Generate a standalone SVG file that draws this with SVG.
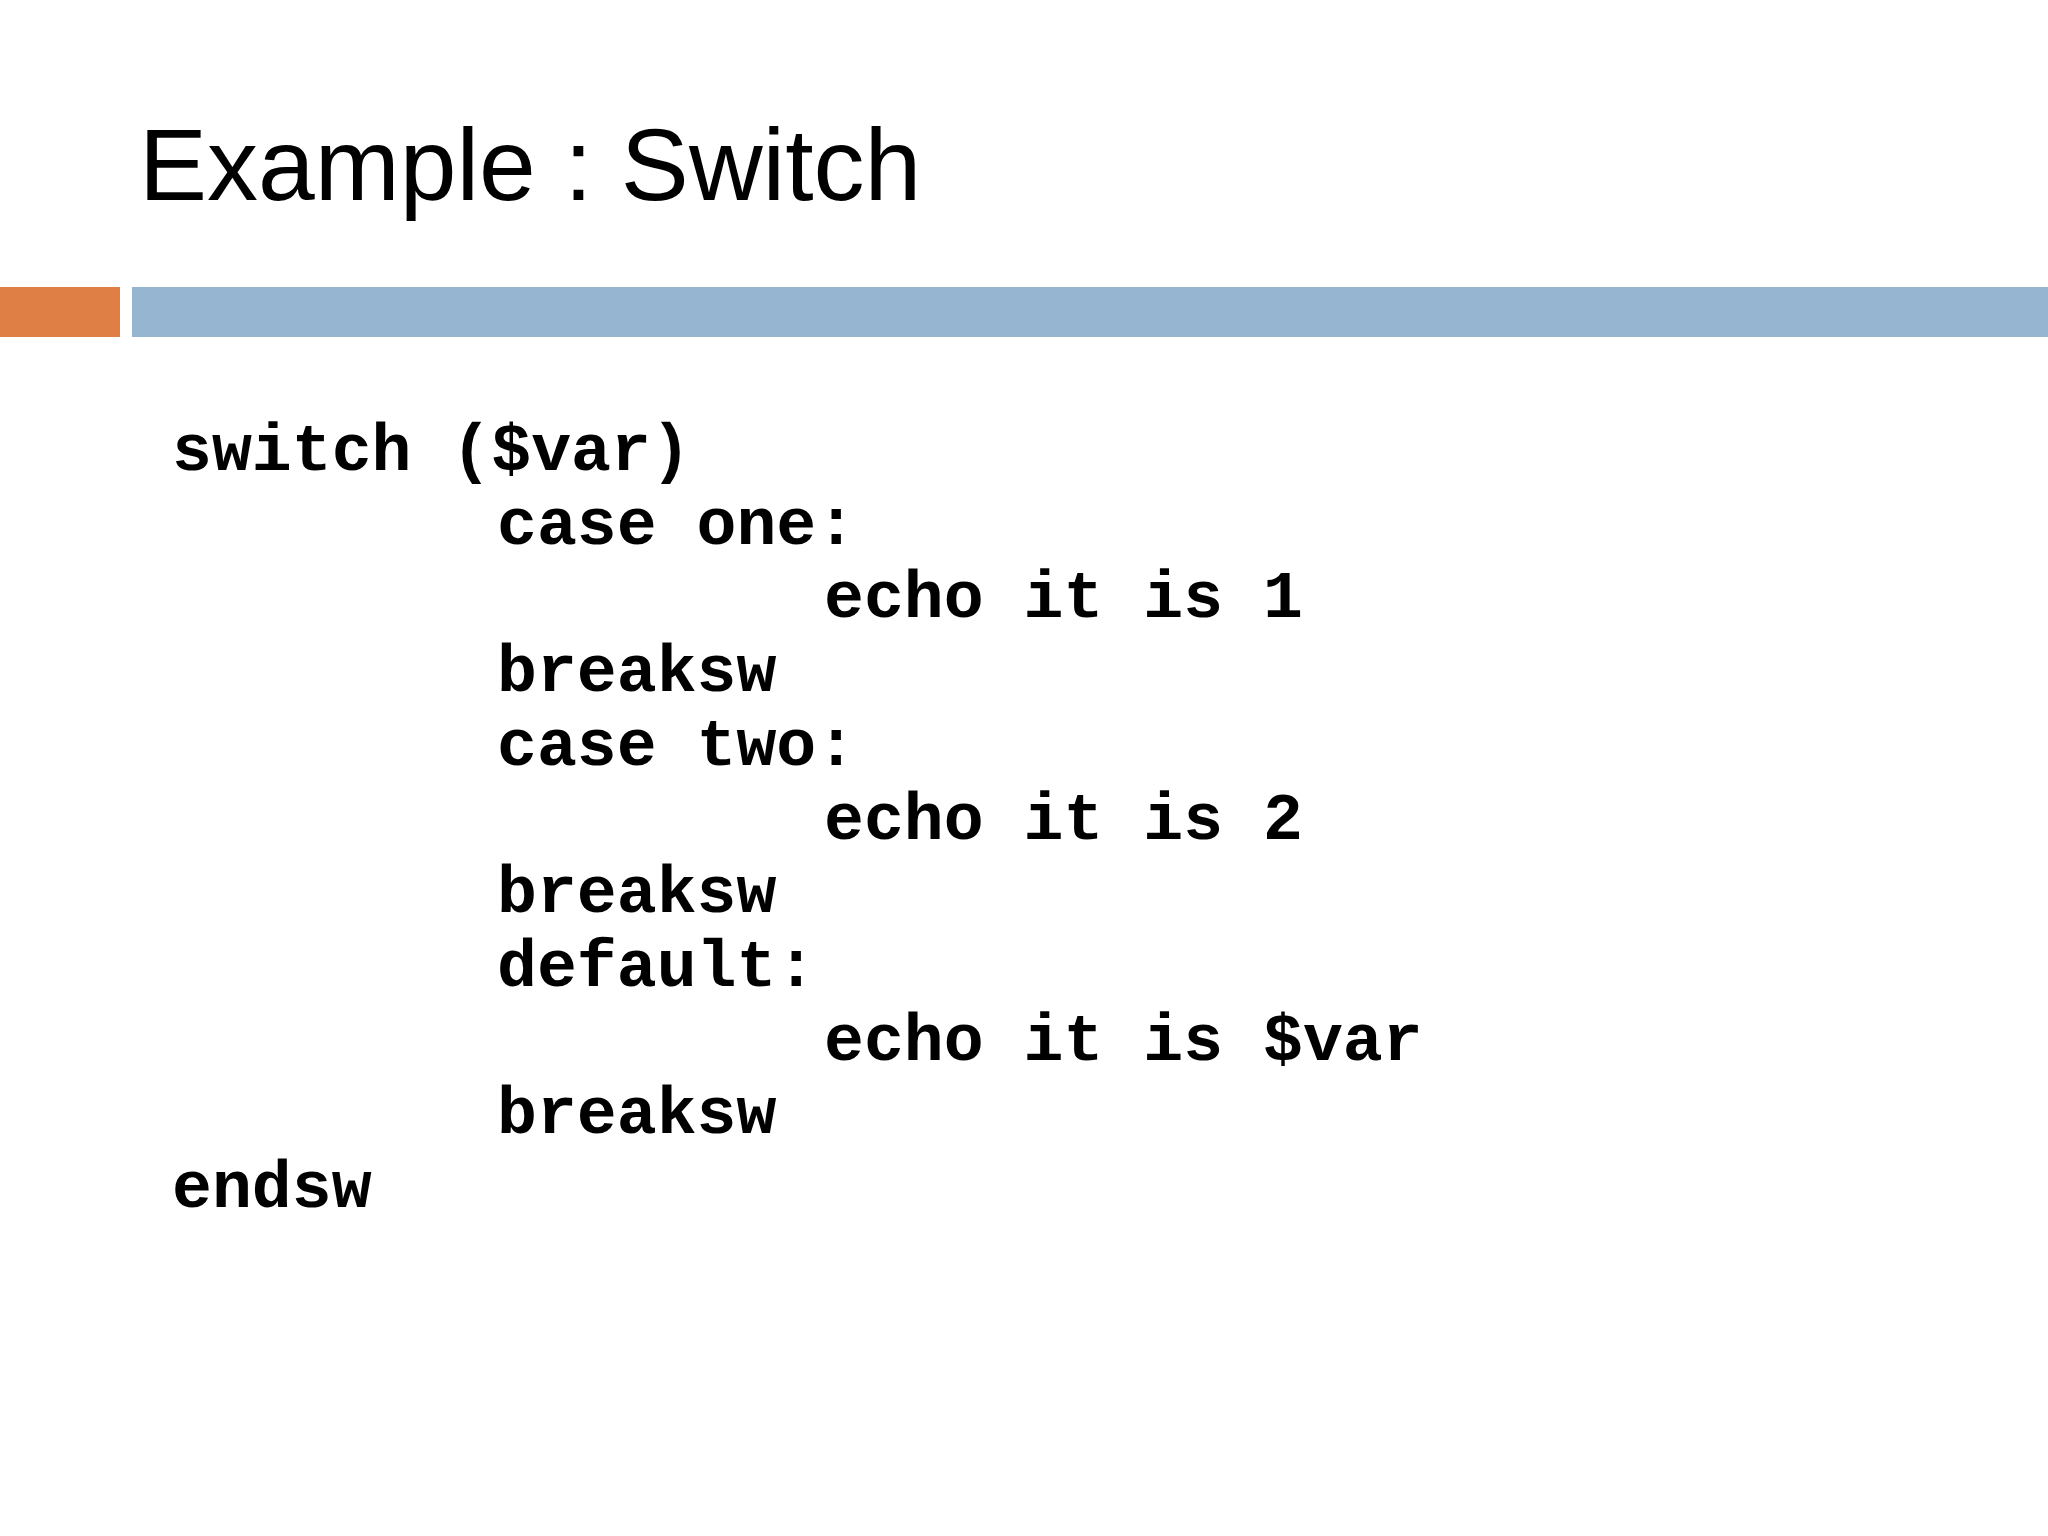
<svg xmlns="http://www.w3.org/2000/svg" width="2048" height="1536" viewBox="0 0 2048 1536">
<style>
.t{font-family:"Liberation Sans",Arial,sans-serif;font-size:102px;fill:#000}
.c{font-family:"Liberation Mono","Courier New",monospace;font-weight:bold;font-size:66.5px;fill:#000;white-space:pre}
</style>
<rect width="2048" height="1536" fill="#fff"/>
<g id="title"><text class="t" x="139" y="200">Example : Switch</text></g>
<g id="bars">
<rect x="0" y="287" width="120" height="50" fill="#e07f45"/>
<rect x="132" y="287" width="1916" height="50" fill="#96b5d1"/>
</g>
<g id="code">
<text class="c" x="172" y="470">switch ($var)</text>
<text class="c" x="497" y="544">case one:</text>
<text class="c" x="824" y="617">echo it is 1</text>
<text class="c" x="497" y="691">breaksw</text>
<text class="c" x="497" y="765">case two:</text>
<text class="c" x="824" y="839">echo it is 2</text>
<text class="c" x="497" y="912">breaksw</text>
<text class="c" x="497" y="986">default:</text>
<text class="c" x="824" y="1060">echo it is $var</text>
<text class="c" x="497" y="1133">breaksw</text>
<text class="c" x="172" y="1207">endsw</text>
</g>
</svg>
